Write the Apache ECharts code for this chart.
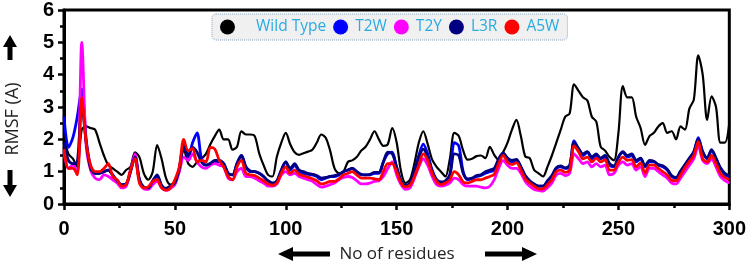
<!DOCTYPE html>
<html>
<head>
<meta charset="utf-8">
<script src="https://cdn.jsdelivr.net/npm/echarts@6/dist/echarts.min.js"></script>
<style>
  html, body { margin: 0; padding: 0; background: #fff; }
  #chart { width: 749px; height: 265px; }
</style>
</head>
<body>
<div id="chart"></div>
<script>
// residue positions sampled every 2 residues (0..300)
const residues = Array.from({ length: 151 }, (_, i) => i * 2)

const wildType = [
  2.05, 1.55, 1.4, 1.15, 2.3, 2.4, 2.35, 2.3, 1.9, 1.5,
  1.2, 1.1, 1.0, 0.9, 1.05, 1.15, 1.6, 1.45, 0.95, 0.75,
  1.0, 1.82, 1.4, 0.8, 0.6, 0.7, 1.0, 1.7, 1.25, 1.15,
  1.3, 1.4, 1.55, 1.85, 2.1, 2.3, 2.0, 2.0, 1.68, 1.77,
  2.25, 2.15, 2.15, 2.1, 1.57, 1.2, 0.9, 0.85, 1.47, 1.9,
  2.2, 1.85, 1.6, 1.52, 1.57, 1.62, 1.68, 1.9, 2.15, 2.05,
  1.65, 1.1, 0.95, 1.0, 1.3, 1.35, 1.45, 1.65, 1.77, 2.0,
  2.25, 2.0, 1.8, 1.85, 2.35, 1.9, 1.0, 0.65, 0.75, 1.25,
  1.9, 2.25, 1.85, 1.37, 1.15, 1.0, 0.85, 1.4, 2.2, 2.1,
  1.65, 1.37, 1.4, 1.48, 1.5, 1.42, 1.77, 1.52, 1.37, 1.6,
  1.9, 2.3, 2.6, 2.1, 1.47, 1.42, 1.05, 0.95, 0.85, 1.15,
  1.5, 1.9, 2.3, 2.7, 2.8, 3.7, 3.5, 3.3, 3.2, 2.7,
  2.55, 1.77, 1.65, 1.45, 1.35, 2.2, 3.65, 3.3, 3.3, 2.7,
  2.35, 1.83, 2.1, 2.2, 2.4, 2.5, 2.2, 2.25, 2.0, 2.4,
  2.3, 2.95, 3.23, 4.6, 4.0, 2.6, 3.33, 3.0, 1.9, 1.9,
  2.5
]

const t2w = [
  2.7, 1.75, 2.05, 2.7, 3.55, 2.0, 1.15, 0.95, 0.95, 1.0,
  1.05, 0.9, 0.7, 0.6, 0.62, 1.05, 1.5, 0.75, 0.5, 0.47,
  0.7, 0.85, 0.55, 0.47, 0.55, 0.65, 1.1, 1.85, 1.45, 1.9,
  2.2, 1.4, 1.2, 1.25, 1.3, 1.3, 1.25, 0.95, 0.9, 1.25,
  1.5, 1.15, 1.0, 1.0, 0.95, 0.85, 0.7, 0.62, 0.7, 1.05,
  1.3, 1.05, 1.2, 1.0, 0.95, 0.92, 0.9, 0.85, 0.75, 0.8,
  0.85, 0.85, 0.9, 1.0, 1.05, 1.1, 1.0, 0.9, 0.9, 0.9,
  0.95, 0.95, 1.3, 1.55, 1.6, 1.1, 0.7, 0.55, 0.62, 1.0,
  1.5, 1.85, 1.55, 1.05, 0.75, 0.65, 0.7, 0.9, 1.9, 1.8,
  1.0, 0.75, 0.78, 0.85, 0.88, 0.95, 1.0, 1.05, 1.35, 1.55,
  1.4, 1.3, 1.35, 1.15, 0.85, 0.7, 0.6, 0.55, 0.55, 0.7,
  0.85, 1.1, 1.15, 1.1, 1.15, 1.95, 1.7, 1.5, 1.6, 1.4,
  1.5, 1.4, 1.45, 1.2, 1.15, 1.45, 1.6, 1.45, 1.5, 1.3,
  1.4, 1.15, 1.3, 1.3, 1.2, 1.15, 1.05, 0.85, 0.8, 1.0,
  1.2, 1.4, 1.6, 2.05, 1.6, 1.4, 1.65, 1.4, 1.1, 0.9,
  0.85
]

const t2y = [
  1.6, 1.1, 1.2, 1.0, 5.0, 1.8, 1.05, 0.8, 0.75, 0.9,
  0.85, 0.75, 0.65, 0.5, 0.55, 1.0, 1.55, 0.7, 0.47, 0.45,
  0.6, 0.7, 0.5, 0.42, 0.48, 0.6, 1.0, 1.45, 1.35, 1.55,
  1.3, 1.15, 1.1, 1.2, 1.25, 1.2, 1.15, 0.8, 0.75, 1.0,
  1.1, 0.85, 0.85, 0.8, 0.72, 0.65, 0.55, 0.55, 0.62, 0.9,
  1.0, 0.9, 0.95, 0.85, 0.8, 0.75, 0.7, 0.6, 0.52, 0.55,
  0.6, 0.65, 0.75, 0.82, 0.85, 0.82, 0.72, 0.62, 0.62, 0.65,
  0.7, 0.72, 0.85, 1.1, 1.3, 0.9, 0.6, 0.45, 0.5, 0.8,
  1.15, 1.4, 1.2, 0.85, 0.6, 0.55, 0.58, 0.65, 0.8, 0.75,
  0.6, 0.55, 0.55, 0.55, 0.52, 0.5, 0.55, 0.75, 1.1, 1.35,
  1.2, 1.1, 1.1, 0.95, 0.7, 0.55, 0.45, 0.42, 0.4, 0.5,
  0.65, 0.9, 0.95, 0.88, 0.95, 1.55, 1.4, 1.25, 1.3, 1.15,
  1.25, 1.15, 1.2, 0.9, 0.95, 1.2, 1.3, 1.2, 1.25, 1.05,
  1.15, 0.85, 1.1, 1.1, 1.0, 0.9, 0.8, 0.65, 0.62, 0.8,
  1.0, 1.2, 1.4, 1.8, 1.35, 1.25, 1.4, 1.15, 0.85, 0.72,
  0.65
]

const l3r = [
  1.9, 1.35, 1.25, 1.3, 3.1, 1.9, 1.1, 0.95, 0.95, 1.0,
  1.05, 0.88, 0.72, 0.6, 0.62, 1.0, 1.45, 0.75, 0.52, 0.5,
  0.72, 0.9, 0.58, 0.48, 0.55, 0.65, 1.1, 1.8, 1.5, 1.75,
  1.6, 1.3, 1.2, 1.25, 1.35, 1.35, 1.25, 0.95, 0.9, 1.25,
  1.5, 1.15, 1.02, 1.0, 0.95, 0.85, 0.72, 0.65, 0.72, 1.05,
  1.3, 1.1, 1.25, 1.05, 1.0, 0.95, 0.92, 0.88, 0.8, 0.82,
  0.85, 0.88, 0.92, 1.0, 1.05, 1.1, 1.0, 0.92, 0.9, 0.92,
  0.98, 0.98, 1.3, 1.6, 1.55, 1.15, 0.72, 0.58, 0.65, 1.0,
  1.45, 1.7, 1.45, 1.0, 0.75, 0.68, 0.72, 0.9, 1.55, 1.5,
  0.95, 0.78, 0.8, 0.88, 0.9, 1.0, 1.05, 1.1, 1.4, 1.58,
  1.42, 1.35, 1.38, 1.15, 0.88, 0.72, 0.62, 0.55, 0.55, 0.72,
  0.88, 1.12, 1.18, 1.12, 1.2, 1.9, 1.72, 1.55, 1.62, 1.45,
  1.55, 1.42, 1.5, 1.25, 1.18, 1.45, 1.62, 1.5, 1.55, 1.35,
  1.42, 1.18, 1.35, 1.32, 1.22, 1.18, 1.08, 0.88, 0.82, 1.02,
  1.22, 1.42, 1.62, 2.0, 1.62, 1.42, 1.68, 1.42, 1.12, 0.95,
  0.88
]

const a5w = [
  1.7, 1.1, 1.1, 0.9, 3.3, 1.9, 1.2, 1.0, 1.0, 1.1,
  1.25, 0.85, 0.75, 0.55, 0.6, 1.05, 1.4, 0.65, 0.5, 0.53,
  0.7, 0.75, 0.5, 0.43, 0.5, 0.75, 1.15, 2.0, 1.65, 1.72,
  1.3, 1.35, 1.3, 1.75, 1.7, 1.35, 1.15, 0.85, 0.75, 1.15,
  1.35, 0.95, 0.9, 0.88, 0.8, 0.72, 0.62, 0.58, 0.65, 0.95,
  1.15, 0.95, 1.05, 0.92, 0.87, 0.83, 0.78, 0.72, 0.62, 0.65,
  0.7, 0.7, 0.78, 0.9, 0.95, 1.0, 0.9, 0.8, 0.8, 0.8,
  0.78, 0.75, 1.0, 1.25, 1.25, 1.0, 0.65, 0.53, 0.58, 0.85,
  1.2, 1.55, 1.35, 0.95, 0.7, 0.6, 0.65, 0.75, 1.0, 0.9,
  0.68, 0.65, 0.7, 0.75, 0.75, 0.8, 0.85, 0.92, 1.25, 1.5,
  1.3, 1.22, 1.28, 1.05, 0.78, 0.65, 0.55, 0.47, 0.47, 0.6,
  0.75, 1.0, 1.05, 0.98, 1.05, 1.8, 1.62, 1.4, 1.45, 1.3,
  1.42, 1.3, 1.37, 1.05, 1.05, 1.3, 1.45, 1.35, 1.37, 1.15,
  1.27, 0.95, 1.2, 1.2, 1.1, 1.0, 0.9, 0.73, 0.72, 0.9,
  1.12, 1.32, 1.5, 1.93, 1.4, 1.3, 1.5, 1.25, 0.95, 0.82,
  0.75
]

const seriesNames = ['Wild Type', 'T2W', 'T2Y', 'L3R', 'A5W']
const seriesColors = ['#000000', '#0000ff', '#ff00ff', '#000080', '#ff0000']
const seriesValues = [wildType, t2w, t2y, l3r, a5w]

const chart = echarts.init(document.getElementById('chart'))

const tickFont = { color: '#000', fontFamily: 'Liberation Sans', fontWeight: 'bold', fontSize: 20 }

chart.setOption({
  animation: false,
  grid: { left: 64, right: 18, top: 10, bottom: 61, show: true, borderColor: '#000', borderWidth: 3 },
  legend: {
    left: 212,
    top: 14,
    icon: 'circle',
    itemWidth: 15,
    itemHeight: 15,
    itemGap: 7,
    padding: [5, 8],
    backgroundColor: '#f0f0f0',
    borderColor: '#8aa4c0',
    borderWidth: 1,
    borderType: 'dotted',
    borderRadius: 4,
    textStyle: { color: '#29abe2', fontFamily: 'Open Sans', fontSize: 15.5, padding: [0, 0, 0, 2] },
    data: seriesNames.map((name, i) => i === 0
      ? { name, textStyle: { padding: [0, 0, 0, 16] } }
      : { name })
  },
  xAxis: {
    type: 'value',
    min: 0,
    max: 300,
    interval: 50,
    axisLine: { lineStyle: { color: '#000', width: 3 } },
    axisTick: { length: 6, lineStyle: { color: '#000', width: 2.5 } },
    minorTick: { show: true, splitNumber: 2, length: 4, lineStyle: { color: '#000', width: 2.5 } },
    splitLine: { show: false },
    axisLabel: { ...tickFont, margin: 15 }
  },
  yAxis: {
    type: 'value',
    min: 0,
    max: 6,
    interval: 1,
    axisLine: { show: true, lineStyle: { color: '#000', width: 3 } },
    axisTick: { show: true, length: 6, lineStyle: { color: '#000', width: 2.5 } },
    minorTick: { show: true, splitNumber: 2, length: 4, lineStyle: { color: '#000', width: 2.5 } },
    splitLine: { show: false },
    axisLabel: { ...tickFont, margin: 10 }
  },
  series: seriesNames.map((name, i) => ({
    name,
    type: 'line',
    smooth: 0.3,
    showSymbol: false,
    color: seriesColors[i],
    lineStyle: { width: i === 0 ? 2.2 : 2.8, color: seriesColors[i] },
    data: residues.map((r, j) => [r, seriesValues[i][j]])
  })),
  graphic: [
    // y axis name with arrows
    { type: 'polygon', shape: { points: [[10, 35], [17, 47], [12.5, 47], [12.5, 60], [7.5, 60], [7.5, 47], [3, 47]] }, style: { fill: '#000' } },
    { type: 'text', x: 13, y: 119, rotation: Math.PI / 2, style: { text: 'RMSF (A)', fill: '#222', font: '18px "Open Sans"', textAlign: 'center', textVerticalAlign: 'middle' } },
    { type: 'polygon', shape: { points: [[10, 197], [17, 185], [12.5, 185], [12.5, 170], [7.5, 170], [7.5, 185], [3, 185]] }, style: { fill: '#000' } },
    // x axis name with arrows
    { type: 'polygon', shape: { points: [[278, 254], [293, 247], [293, 251.5], [330, 251.5], [330, 256.5], [293, 256.5], [293, 261]] }, style: { fill: '#000' } },
    { type: 'text', x: 397, y: 254, style: { text: 'No of residues', fill: '#222', font: '17px "Open Sans"', textAlign: 'center', textVerticalAlign: 'middle' } },
    { type: 'polygon', shape: { points: [[537, 254], [522, 247], [522, 251.5], [485, 251.5], [485, 256.5], [522, 256.5], [522, 261]] }, style: { fill: '#000' } }
  ]
})
</script>
</body>
</html>
